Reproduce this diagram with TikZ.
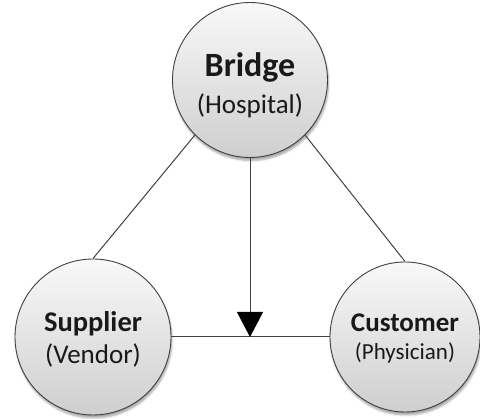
\documentclass[tikz,border=0pt]{standalone}
\usepackage{fontspec}
\setmainfont{Carlito}
\usetikzlibrary{arrows.meta,shadows.blur}

\begin{document}
\begin{tikzpicture}[
    x=1pt, y=1pt,
    every node/.style={align=center, text=black!90},
    ball/.style={circle, draw=black!75, line width=0.9pt, inner sep=0pt,
        top color=gray!5, bottom color=gray!38,
        blur shadow={shadow xshift=1pt, shadow yshift=-3pt, shadow blur steps=6, shadow opacity=35}},
    link/.style={draw=black!75, line width=1pt},
    flow/.style={link, -{Triangle[length=25pt, width=26pt, color=black]}},
    ]
\useasboundingbox (0,0) rectangle (480,419);
% the three parties
\node[ball, minimum size=155] (bridge) at (250,339) {};
\node[ball, minimum size=156] (supplier) at (93,82) {};
\node[ball, minimum size=150] (customer) at (405,82) {};
\node[font=\fontsize{27}{37}\selectfont] (bridgeT) at ([yshift=-5]bridge.center)
    {{\fontsize{34}{37}\selectfont\bfseries Bridge}\\(Hospital)};
\node[font=\fontsize{27}{32}\selectfont] (supplierT) at ([yshift=-2]supplier.center)
    {{\fontsize{28.5}{32}\selectfont\bfseries Supplier}\\(Vendor)};
\node[font=\fontsize{23}{28}\selectfont] (customerT) at ([yshift=-2]customer.center)
    {{\fontsize{27}{28}\selectfont\bfseries Customer}\\(Physician)};
% connectors
\coordinate (tip) at (bridge.south |- supplier.east);
\draw[link] (bridge.225) -- (supplier.north);
\draw[link] (bridge.-45) -- (customer.north);
\draw[link] (supplier.east) -- (customer.west);
\draw[flow] (bridge.south) -- (tip);
\end{tikzpicture}
\end{document}
